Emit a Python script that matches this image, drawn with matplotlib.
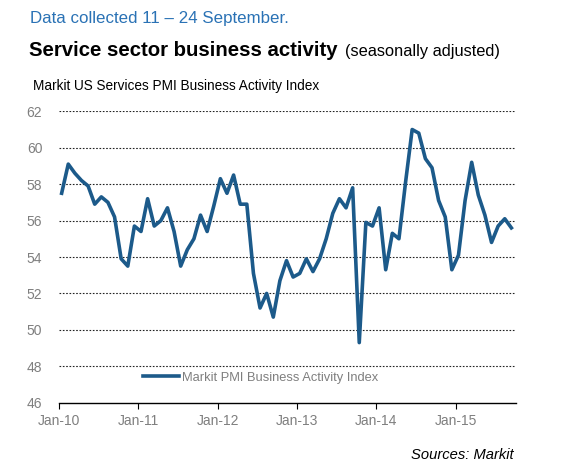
import numpy as np
import matplotlib.pyplot as plt

plt.rcParams['font.family'] = ['Liberation Sans', 'DejaVu Sans']

# monthly index, Jan-10 .. Sep-15
pmi = [57.5, 59.1, 58.6, 58.2, 57.9, 56.9, 57.3, 57.0, 56.2, 53.9, 53.5, 55.7,
       55.4, 57.2, 55.7, 56.0, 56.7, 55.4, 53.5, 54.4, 55.0, 56.3, 55.4, 56.8,
       58.3, 57.5, 58.5, 56.9, 56.9, 53.1, 51.2, 52.0, 50.7, 52.7, 53.8, 52.9,
       53.1, 53.9, 53.2, 53.9, 55.0, 56.4, 57.2, 56.7, 57.8, 49.3, 55.9, 55.7,
       56.7, 53.3, 55.3, 55.0, 58.1, 61.0, 60.8, 59.4, 58.9, 57.1, 56.2, 53.3,
       54.1, 57.1, 59.2, 57.4, 56.3, 54.8, 55.7, 56.1, 55.6]
tick_labels = ['Jan-10', 'Jan-11', 'Jan-12', 'Jan-13', 'Jan-14', 'Jan-15']
y_ticks = [46, 48, 50, 52, 54, 56, 58, 60, 62]

line_color = '#1c5a8a'
grey = '#7f7f7f'
W, H = 563, 473

fig = plt.figure(figsize=(5.63, 4.73), dpi=100)
ax = fig.add_axes([59 / W, 1 - 402.7 / H, 457 / W, 291.4 / H])

x = np.arange(len(pmi)) + 0.4
ax.plot(x, pmi, color=line_color, lw=2.6, solid_joinstyle='round',
        label='Markit PMI Business Activity Index')

ax.set_ylim(46, 62)
ax.set_xlim(0, 69.1)
ax.set_yticks(y_ticks)
ax.set_xticks(np.arange(len(tick_labels)) * 12)
ax.set_xticklabels(tick_labels)

for v in y_ticks[1:]:
    ax.axhline(v, color='#222222', lw=0.8, ls=(0, (1.5, 1.5)), zorder=0)

for s in ['top', 'right', 'left']:
    ax.spines[s].set_visible(False)
ax.spines['bottom'].set_color('black')
ax.spines['bottom'].set_linewidth(1.0)

ax.tick_params(axis='y', length=0, pad=12, labelsize=10, labelcolor=grey)
ax.tick_params(axis='x', direction='out', length=4, color='black',
               pad=4, labelsize=10, labelcolor=grey)

leg = ax.legend(loc='center left', bbox_to_anchor=(0.184, 0.085),
                frameon=False, fontsize=9.3, handlelength=2.8,
                handletextpad=0.2, borderpad=0, borderaxespad=0)
for t in leg.get_texts():
    t.set_color(grey)

fig.text(30 / W, 1 - 22.7 / H, 'Data collected 11 \u2013 24 September.',
         fontsize=12.2, color='#2a72b5', va='baseline', ha='left')
t1 = fig.text(29 / W, 1 - 56 / H, 'Service sector business activity',
              fontsize=14.7, fontweight='bold', color='black',
              va='baseline', ha='left')
fig.canvas.draw()
bb = t1.get_window_extent()
fig.text((bb.x1 + 7) / W, 1 - 56 / H, '(seasonally adjusted)',
         fontsize=11.8, color='black', va='baseline', ha='left')
fig.text(33 / W, 1 - 90 / H, 'Markit US Services PMI Business Activity Index',
         fontsize=9.85, color='black', va='baseline', ha='left')
fig.text(514 / W, 1 - 459 / H, 'Sources: Markit', fontsize=10.6,
         style='italic', color='black', va='baseline', ha='right')

fig.savefig('out.png', dpi=100)
